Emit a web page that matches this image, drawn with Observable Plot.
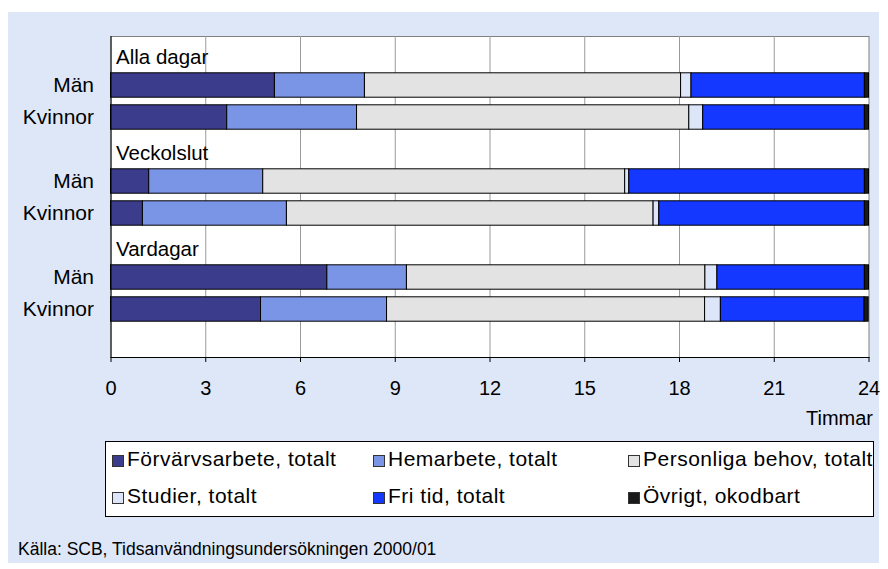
<!DOCTYPE html>
<html>
<head>
<meta charset="utf-8">
<script src="https://cdn.jsdelivr.net/npm/d3@7"></script>
<script src="https://cdn.jsdelivr.net/npm/@observablehq/plot@0.6"></script>
<style>
  html, body { margin: 0; padding: 0; background: #fff; width: 888px; height: 569px; overflow: hidden; }
  body { position: relative; font-family: "Liberation Sans", Arial, sans-serif; color: #000; }
  #panel { position: absolute; left: 8px; top: 12px; width: 871px; height: 551px; background: #dee7f8; }
  #chart { position: absolute; left: 0; top: 0; }
  #unit { position: absolute; right: 15px; top: 408px; font-size: 20px; line-height: 20px; }
  #legend { position: absolute; left: 105px; top: 441px; width: 767px; height: 74px; border: 1px solid #000; background: #fff; }
  .item { position: absolute; font-size: 21px; line-height: 21px; white-space: nowrap; letter-spacing: 0.5px; }
  .sw { position: absolute; width: 10px; height: 10px; border: 1px solid #333; }
  #caption { position: absolute; left: 18px; top: 541px; font-size: 17.5px; line-height: 17px; }
</style>
</head>
<body>
<div id="panel"></div>
<div id="chart"></div>
<div id="unit"></div>
<div id="legend"></div>
<div id="caption"></div>
<script>
// ---- data ----
const groups = ["Alla dagar", "Veckolslut", "Vardagar"];
const sexes = ["Män", "Kvinnor"];
const activities = ["Förvärvsarbete, totalt", "Hemarbete, totalt", "Personliga behov, totalt", "Studier, totalt", "Fri tid, totalt", "Övrigt, okodbart"];
const colors = ["#3b3d8c", "#7b95e6", "#e3e3e3", "#dde6f8", "#1438ff", "#1a1a1a"];
// row order: Alla dagar Män, Alla dagar Kvinnor, Veckolslut Män, Veckolslut Kvinnor, Vardagar Män, Vardagar Kvinnor
const forvarvsarbete = [5.19, 3.68, 1.21, 1.01, 6.85, 4.75];
const hemarbete      = [2.85, 4.11, 3.61, 4.56, 2.52, 3.99];
const personliga     = [10.01, 10.52, 11.46, 11.61, 9.45, 10.07];
const studier        = [0.33, 0.44, 0.13, 0.18, 0.38, 0.50];
const fritid         = [5.49, 5.12, 7.46, 6.51, 4.67, 4.55];
const ovrigt         = [0.13, 0.13, 0.13, 0.13, 0.13, 0.13];
const xTicks = [0, 3, 6, 9, 12, 15, 18, 21, 24];
const xUnit = "Timmar";
const caption = "Källa: SCB, Tidsanvändningsundersökningen 2000/01";

// ---- build table ----
const series = [forvarvsarbete, hemarbete, personliga, studier, fritid, ovrigt];
const domain = [];
const headers = [];
groups.forEach(g => {
  domain.push("#" + g);
  headers.push({row: "#" + g, label: g});
  sexes.forEach(s => domain.push(g + "|" + s));
});
domain.push("#end");
const data = [];
activities.forEach((a, k) => {
  series[k].forEach((v, i) => {
    const g = groups[Math.floor(i / 2)], s = sexes[i % 2];
    data.push({row: g + "|" + s, activity: a, value: v});
  });
});

const chart = Plot.plot({
  width: 888,
  height: 430,
  marginLeft: 110.5,
  marginRight: 19.5,
  marginTop: 36,
  marginBottom: 73,
  style: {background: "transparent", fontFamily: "'Liberation Sans', Arial, sans-serif", fontSize: "20px", color: "#000"},
  x: {domain: [0, 24]},
  y: {domain, padding: 0},
  color: {domain: activities, range: colors},
  marks: [
    Plot.frame({fill: "#fff", stroke: "#808080"}),
    Plot.ruleX(xTicks.slice(1, -1), {stroke: "#9a9a9a"}),
    Plot.barX(data, Plot.stackX({x: "value", y: "row", fill: "activity", stroke: "#000", strokeWidth: 1, insetTop: 3.8, insetBottom: 3.8})),
    Plot.text(headers, {x: 0, y: "row", text: "label", textAnchor: "start", dx: 5, dy: 4, fontSize: 20.5}),
    Plot.ruleX([0], {stroke: "#000"}),
    Plot.frame({anchor: "bottom", stroke: "#000"}),
    Plot.axisX(xTicks, {tickSize: 5, tickPadding: 18, fontSize: 20, label: null, tickFormat: d => String(d)}),
    Plot.axisY({tickSize: 0, tickPadding: 17, fontSize: 21, label: null, tickFormat: d => d.startsWith("#") ? "" : d.split("|")[1]})
  ]
});
document.getElementById("chart").appendChild(chart);
document.getElementById("unit").textContent = xUnit;
document.getElementById("caption").textContent = caption;

// ---- legend ----
const legend = document.getElementById("legend");
const colX = [6, 267, 522];
const rowTop = [10, 47];
activities.forEach((a, k) => {
  const col = k % 3, r = Math.floor(k / 3);
  const sw = document.createElement("div");
  sw.className = "sw";
  sw.style.left = colX[col] + "px";
  sw.style.top = (rowTop[r] + 3) + "px";
  sw.style.background = colors[k];
  legend.appendChild(sw);
  const t = document.createElement("div");
  t.className = "item";
  t.style.left = (colX[col] + 15) + "px";
  t.style.top = (rowTop[r] - 4) + "px";
  t.textContent = a;
  legend.appendChild(t);
});
</script>
</body>
</html>
